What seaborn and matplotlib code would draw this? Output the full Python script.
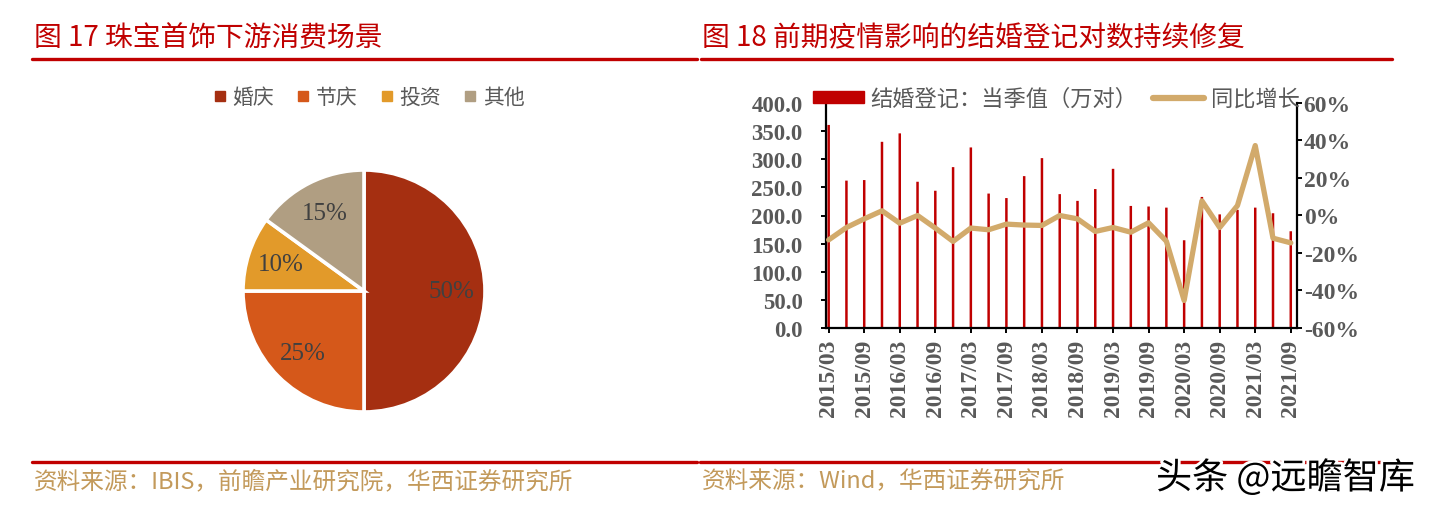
import numpy as np
import pandas as pd
import matplotlib
matplotlib.use("Agg")
import matplotlib.pyplot as plt
import seaborn as sns
from matplotlib.lines import Line2D
from matplotlib.patches import Patch
import matplotlib.patheffects as pe

# ---------------- data ----------------
pie_labels = ["婚庆", "节庆", "投资", "其他"]
pie_shares = [50, 25, 10, 15]
pie_colors = ["#A52F11", "#D5581A", "#E29A2A", "#B09E82"]

quarters = ["2015/03", "2015/06", "2015/09", "2015/12",
            "2016/03", "2016/06", "2016/09", "2016/12",
            "2017/03", "2017/06", "2017/09", "2017/12",
            "2018/03", "2018/06", "2018/09", "2018/12",
            "2019/03", "2019/06", "2019/09", "2019/12",
            "2020/03", "2020/06", "2020/09", "2020/12",
            "2021/03", "2021/06", "2021/09"]
marriages = [361, 262, 263, 331, 346, 260, 244, 286, 321, 239, 231, 270, 302, 238,
             226, 247, 283, 217, 216, 214, 156, 233, 202, 210, 214, 204, 172]
growth = [-13.0, -6.4, -1.8, 2.5, -4.1, 0.0, -6.7, -13.8, -6.7, -7.6, -4.6, -5.1,
          -5.3, 0.0, -1.8, -8.5, -6.4, -8.9, -3.9, -13.7, -45.3, 7.8, -6.4, 5.3,
          37.3, -12.1, -14.6]
bar_label = "结婚登记：当季值（万对）"
line_label = "同比增长"

title_left = "图 17 珠宝首饰下游消费场景"
title_right = "图 18 前期疫情影响的结婚登记对数持续修复"
source_left = "资料来源：IBIS，前瞻产业研究院，华西证券研究所"
source_right = "资料来源：Wind，华西证券研究所"
watermark = "头条 @远瞻智库"

# ---------------- style ----------------
sns.set_style("white")
plt.rcParams["font.family"] = ["Noto Sans CJK SC", "DejaVu Sans"]
RED = "#C00000"
GRAY = "#595959"
LINE = "#D2AA6B"
SRC = "#C39A5B"
CJK = ["Noto Sans CJK SC", "DejaVu Sans"]
SERIF = "Liberation Serif"

W, H = 1435, 510
fig = plt.figure(figsize=(W / 100, H / 100), dpi=100)
fig.patch.set_facecolor("white")


def fx(px):
    return px / W


def fy(py):
    return 1 - py / H


# ---------------- titles, rules, sources ----------------
fig.text(fx(34), fy(38), title_left, color=RED, fontsize=20, va="center", ha="left", family=CJK)
fig.text(fx(702), fy(38), title_right, color=RED, fontsize=20, va="center", ha="left", family=CJK)
for x0, x1, y in [(32, 697, 60), (701, 1392, 60), (32, 697, 463), (700, 1395, 463)]:
    fig.add_artist(Line2D([fx(x0), fx(x1)], [fy(y), fy(y)], color=RED, lw=2.4,
                          transform=fig.transFigure))
fig.text(fx(34), fy(482), source_left, color=SRC, fontsize=17, va="center", ha="left", family=CJK)
fig.text(fx(702), fy(482), source_right, color=SRC, fontsize=17, va="center", ha="left", family=CJK)

# ---------------- pie ----------------
cx, cy, r = 364, 292, 121
box = 2 * r * 1.04
axp = fig.add_axes([fx(cx - box / 2), fy(cy + box / 2), fx(box), box / H])
wedges, texts, autotexts = axp.pie(
    pie_shares, colors=pie_colors, startangle=90, counterclock=False,
    autopct="%d%%", pctdistance=0.72,
    wedgeprops=dict(edgecolor="white", linewidth=2.6),
    textprops=dict(color="#404040", fontsize=18, family=SERIF))
axp.set_xlim(-1.04, 1.04)
axp.set_ylim(-1.04, 1.04)
axp.set_aspect("equal")
axp.axis("off")

pie_handles = [Line2D([], [], marker="s", linestyle="none", markersize=7,
                      markerfacecolor=c, markeredgecolor=c) for c in pie_colors]
fig.legend(pie_handles, pie_labels, loc="center", bbox_to_anchor=(fx(368), fy(98)),
           ncol=4, frameon=False, handletextpad=0.2, columnspacing=1.0,
           handlelength=0.8, labelcolor=GRAY, prop=dict(family=CJK, size=15))

# ---------------- bar + line ----------------
ax = fig.add_axes([fx(826), fy(329), fx(1297 - 826), (329 - 104) / H])
df = pd.DataFrame({"quarter": quarters, "marriages": marriages, "growth": growth})
df["pos"] = np.arange(len(df))
sns.barplot(data=df, x="quarter", y="marriages", color=RED, saturation=1,
            width=0.14, ax=ax)
for p in ax.patches:
    p.set_snap(False)
    p.set_linewidth(0)
ax2 = ax.twinx()
sns.lineplot(data=df, x="pos", y="growth", color=LINE, lw=3.8, ax=ax2)

ax.set_xlim(-0.15, 26.35)
ax.set_ylim(0, 400)
ax2.set_ylim(-60, 60)

ax.set_yticks(np.arange(0, 401, 50))
ax.set_yticklabels([f"{v:.1f}" for v in np.arange(0, 401, 50)])
ax2.set_yticks(np.arange(-60, 61, 20))
ax2.set_yticklabels([f"{v}%" for v in np.arange(-60, 61, 20)])
ax.set_xticks(np.arange(0, len(quarters), 2))
ax.set_xticklabels(quarters[::2], rotation=90)

for a in (ax, ax2):
    a.set_xlabel("")
    a.set_ylabel("")
    a.spines["top"].set_visible(False)
    for s in ("left", "right", "bottom"):
        a.spines[s].set_color("black")
        a.spines[s].set_linewidth(1.6)
    a.tick_params(direction="out", length=3.8, width=1.4, color="black", labelcolor=GRAY,
                  labelsize=16.5)
    for t in a.get_xticklabels() + a.get_yticklabels():
        t.set_family(SERIF)
        t.set_fontweight("bold")
ax.tick_params(axis="x", bottom=True, labelsize=17, pad=4)
ax.tick_params(axis="y", left=True, pad=13)
ax2.tick_params(axis="y", right=True, pad=1, labelsize=17)
ax.spines["right"].set_visible(False)
ax2.spines["left"].set_visible(False)
ax2.spines["bottom"].set_visible(False)

leg_handles = [Patch(facecolor=RED, edgecolor=RED), Line2D([], [], color=LINE, lw=4.5)]
fig.legend(leg_handles, [bar_label, line_label], loc="center left",
           bbox_to_anchor=(fx(793), fy(99)), ncol=2, frameon=False,
           handlelength=2.3, handleheight=0.45, handletextpad=0.3, columnspacing=0.7,
           labelcolor=GRAY, prop=dict(family=CJK, size=16))

# ---------------- watermark ----------------
fig.text(fx(1156), fy(479), watermark, color="black", fontsize=26, va="center", ha="left",
         family=CJK, path_effects=[pe.withStroke(linewidth=4, foreground="white")])

fig.savefig("out.png", dpi=100, facecolor="white")
